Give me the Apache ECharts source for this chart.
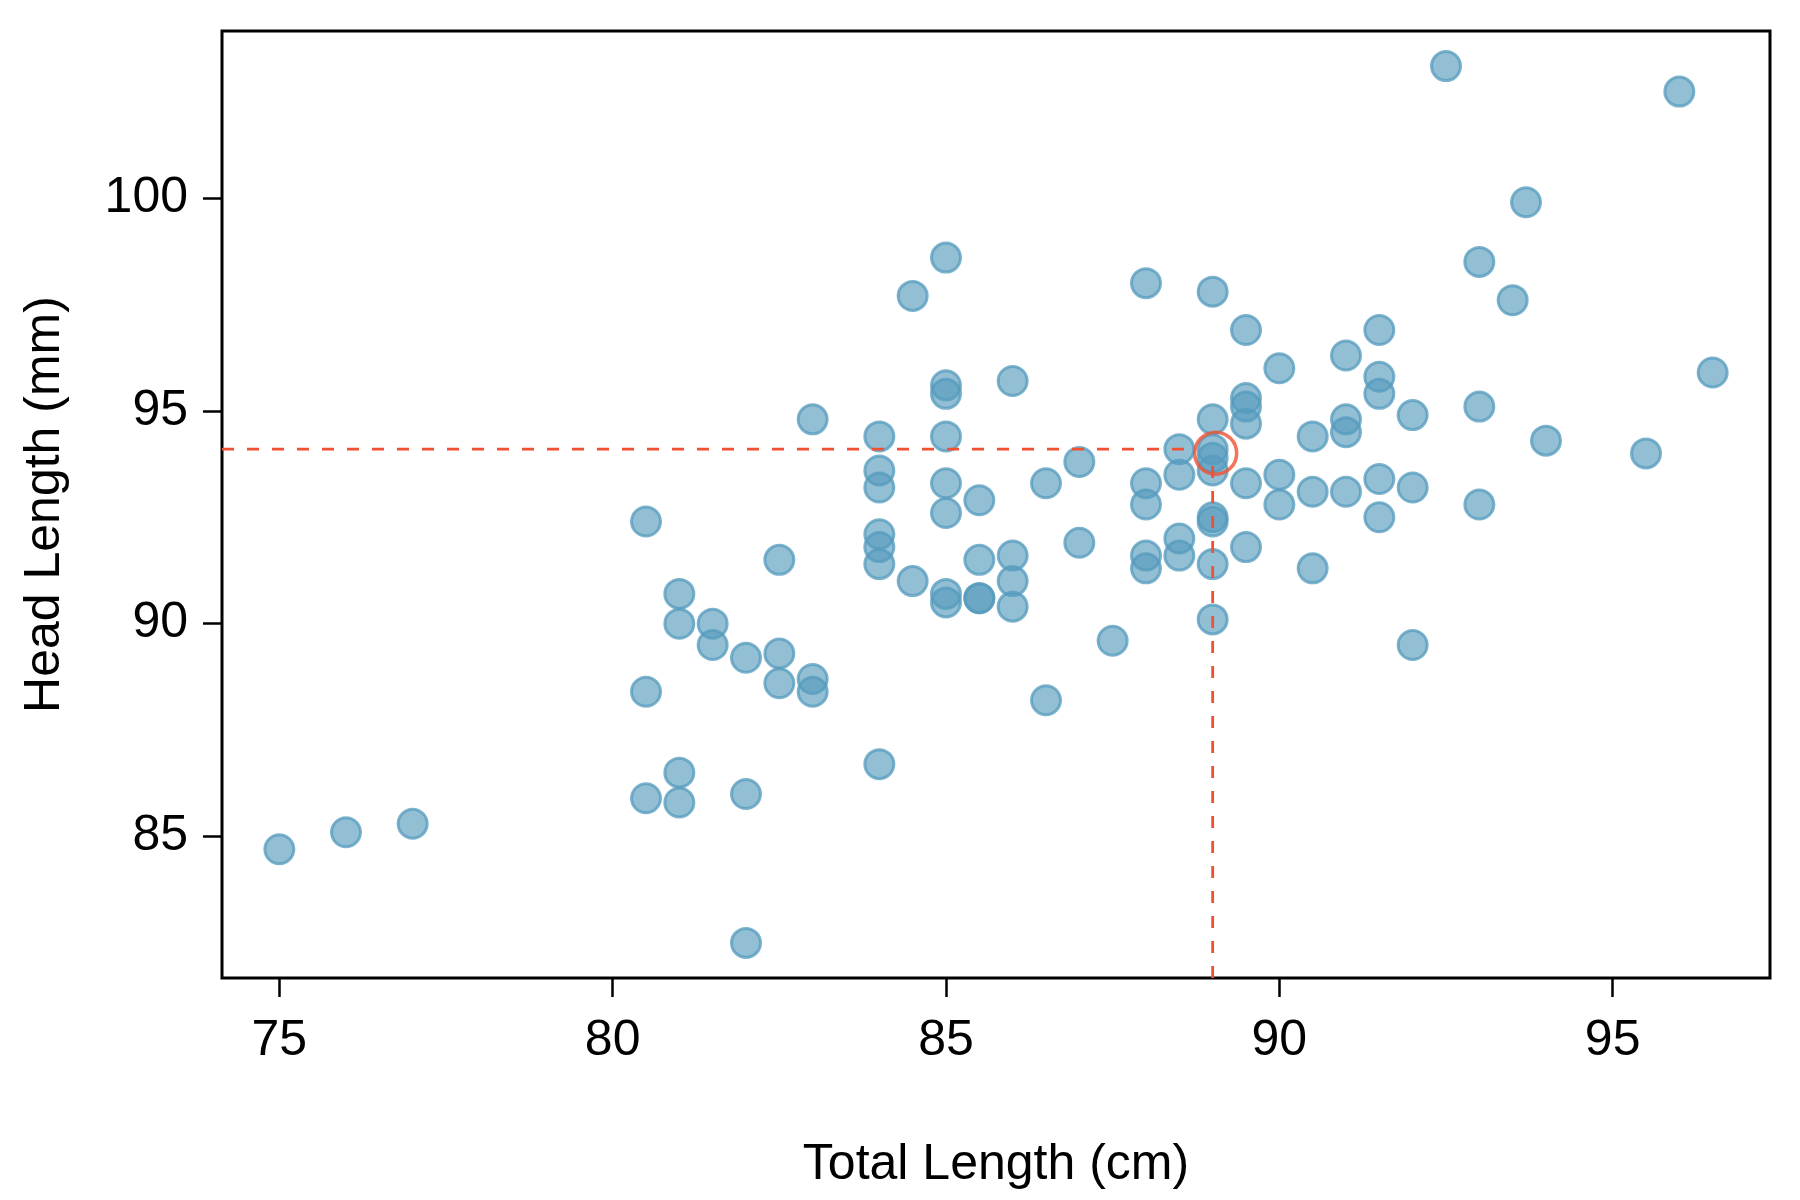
<!DOCTYPE html>
<html>
<head>
<meta charset="utf-8">
<title>Head vs Total Length</title>
<script src="https://cdn.jsdelivr.net/npm/echarts@6/dist/echarts.min.js"></script>
<style>
  html, body { margin: 0; padding: 0; background: #fff; }
  #chart { width: 1800px; height: 1200px; }
</style>
</head>
<body>
<div id="chart"></div>
<script>
const totalLength = [
    75, 76, 77,
    80.5, 80.5, 80.5,
    81, 81, 81, 81,
    81.5, 81.5,
    82, 82, 82,
    82.5, 82.5, 82.5,
    83, 83, 83,
    84, 84, 84, 84, 84, 84, 84,
    84.5, 84.5,
    85, 85, 85, 85, 85, 85, 85, 85,
    85.5, 85.5, 85.5, 85.5,
    86, 86, 86, 86,
    86.5, 86.5,
    87, 87,
    87.5,
    88, 88, 88, 88, 88,
    88.5, 88.5, 88.5, 88.5,
    89, 89, 89, 89, 89, 89, 89, 89, 89,
    89.5, 89.5, 89.5, 89.5, 89.5, 89.5,
    90, 90, 90,
    90.5, 90.5, 90.5,
    91, 91, 91, 91,
    91.5, 91.5, 91.5, 91.5, 91.5,
    92, 92, 92,
    92.5,
    93, 93, 93,
    93.5, 93.7, 94, 95.5, 96, 96.5
];
const headLength = [
    84.7, 85.1, 85.3,
    92.4, 88.4, 85.9,
    90.7, 90.0, 86.5, 85.8,
    90.0, 89.5,
    89.2, 86.0, 82.5,
    91.5, 89.3, 88.6,
    94.8, 88.7, 88.4,
    94.4, 93.6, 93.2, 92.1, 91.8, 91.4, 86.7,
    97.7, 91.0,
    98.6, 95.6, 95.4, 94.4, 93.3, 92.6, 90.7, 90.5,
    92.9, 91.5, 90.6, 90.6,
    95.7, 91.6, 91.0, 90.4,
    93.3, 88.2,
    93.8, 91.9,
    89.6,
    98.0, 93.3, 92.8, 91.6, 91.3,
    94.1, 93.5, 92.0, 91.6,
    97.8, 94.8, 94.1, 93.9, 93.6, 92.5, 92.4, 91.4, 90.1,
    96.9, 95.3, 95.1, 94.7, 93.3, 91.8,
    96.0, 93.5, 92.8,
    94.4, 93.1, 91.3,
    96.3, 94.8, 94.5, 93.1,
    96.9, 95.8, 95.4, 93.4, 92.5,
    94.9, 93.2, 89.5,
    103.1,
    98.5, 95.1, 92.8,
    97.6, 99.9, 94.3, 94.0, 102.5, 95.9
];
const xTicks = [75, 80, 85, 90, 95];
const yTicks = [85, 90, 95, 100];
// the highlighted possum
const highlight = [89, 94.1];

const red = '#F05133';
const font = '"Liberation Sans", Arial, sans-serif';

// R style axis range: data range padded by 4% on each side
function padRange(vals) {
    const lo = Math.min(...vals), hi = Math.max(...vals);
    const pad = (hi - lo) * 0.04;
    return [lo - pad, hi + pad];
}
const [xMin, xMax] = padRange(totalLength);
const [yMin, yMax] = padRange(headLength);

const points = totalLength.map((x, i) => [x, headLength[i]]);

// dashed guide lines stop short of the red ring
const gapX = 0.4, gapY = 0.35;

const chart = echarts.init(document.getElementById('chart'));
const option = {
    animation: false,
    backgroundColor: '#fff',
    grid: {
        left: 222,
        right: 30,
        top: 31,
        bottom: 222,
        show: true,
        borderColor: '#000',
        borderWidth: 3,
        backgroundColor: 'transparent'
    },
    xAxis: {
        type: 'value',
        min: xMin,
        max: xMax,
        name: 'Total Length (cm)',
        nameLocation: 'middle',
        nameGap: 162,
        nameTextStyle: { fontFamily: font, fontSize: 50, color: '#000' },
        axisLine: { show: false },
        splitLine: { show: false },
        axisTick: {
            show: true,
            inside: false,
            length: 19,
            customValues: xTicks,
            lineStyle: { color: '#000', width: 2.5 }
        },
        axisLabel: {
            customValues: xTicks,
            margin: 38,
            fontFamily: font,
            fontSize: 50,
            color: '#000'
        }
    },
    yAxis: {
        type: 'value',
        min: yMin,
        max: yMax,
        name: 'Head Length (mm)',
        nameLocation: 'middle',
        nameGap: 152,
        nameTextStyle: { fontFamily: font, fontSize: 50, color: '#000' },
        axisLine: { show: false },
        splitLine: { show: false },
        axisTick: {
            show: true,
            inside: false,
            length: 19,
            customValues: yTicks,
            lineStyle: { color: '#000', width: 2.5 }
        },
        axisLabel: {
            customValues: yTicks,
            margin: 34,
            fontFamily: font,
            fontSize: 50,
            color: '#000'
        }
    },
    series: [
        {
            type: 'scatter',
            data: points,
            symbol: 'circle',
            symbolSize: 29,
            itemStyle: {
                color: 'rgba(86,155,189,0.8)',
                borderColor: 'rgba(86,155,189,0.95)',
                borderWidth: 3
            },
            z: 2
        },
        {
            type: 'line',
            data: [[xMin, highlight[1]], [highlight[0] - gapX, highlight[1]]],
            symbol: 'none',
            lineStyle: { color: red, width: 2.8, type: [12, 13] },
            z: 3
        },
        {
            type: 'line',
            data: [[highlight[0], yMin], [highlight[0], highlight[1] - gapY]],
            symbol: 'none',
            lineStyle: { color: red, width: 2.8, type: [12, 13] },
            z: 3
        },
        {
            type: 'scatter',
            data: [highlight],
            symbol: 'circle',
            symbolSize: 42,
            symbolOffset: [3, 4],
            itemStyle: {
                color: 'transparent',
                borderColor: red,
                borderWidth: 3.5
            },
            z: 4
        }
    ]
};
chart.setOption(option);
window.addEventListener('resize', () => chart.resize());
</script>
</body>
</html>
